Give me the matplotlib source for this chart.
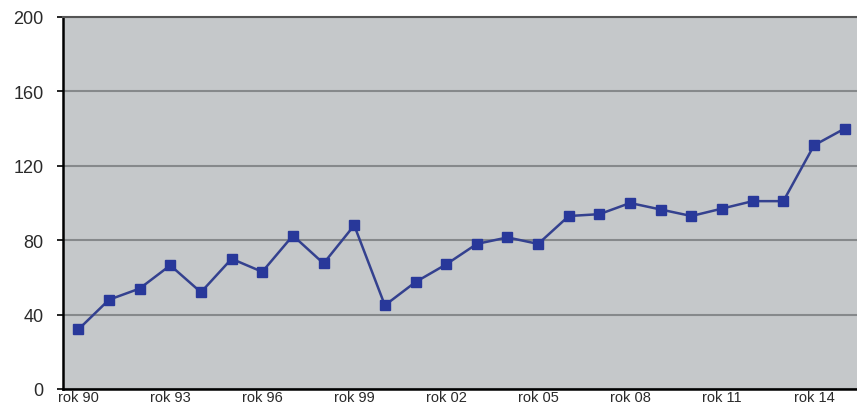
import numpy as np
import matplotlib
matplotlib.use('Agg')
import matplotlib.pyplot as plt

plt.rcParams['font.family'] = ['Liberation Sans', 'DejaVu Sans']

# dane
years = list(range(1990, 2016))
values = [32, 48, 54, 66.5, 52, 70, 63, 82.5, 67.5, 88, 45, 57.5, 67,
          78, 81.5, 78, 93, 94, 100, 96.5, 93, 97, 101, 101, 131, 140]
tick_years = [1990, 1993, 1996, 1999, 2002, 2005, 2008, 2011, 2014]
tick_labels = ['rok 90', 'rok 93', 'rok 96', 'rok 99', 'rok 02',
               'rok 05', 'rok 08', 'rok 11', 'rok 14']
y_ticks = [0, 40, 80, 120, 160, 200]

fig = plt.figure(figsize=(8.57, 4.10), dpi=100)
ax = fig.add_axes([63 / 857, 20 / 410, 797 / 857, 372 / 410])
ax.set_facecolor('#c5c8ca')

x = np.arange(len(years))
ax.plot(x, values, color='#34418f', lw=1.8, marker='s', markersize=6.5,
        markerfacecolor='#28389a', markeredgecolor='#28389a', zorder=3)

ax.set_xlim(-0.5, len(years) - 0.5)
ax.set_ylim(0, 200)

ax.set_yticks(y_ticks)
ax.set_yticklabels([str(v) for v in y_ticks], fontsize=13, color='#2a2a2a')
pos = [years.index(t) for t in tick_years]
ax.set_xticks(pos)
ax.set_xticklabels(tick_labels, fontsize=10.5, color='#2a2a2a')

ax.grid(axis='y', color='#86898b', lw=1.5)
ax.set_axisbelow(True)

ax.tick_params(axis='y', length=4, width=1.2, pad=10, color='black')
ax.tick_params(axis='x', length=0, pad=1)

ax.spines['left'].set_linewidth(1.8)
ax.spines['bottom'].set_linewidth(1.8)
ax.spines['top'].set_color('#555555')
ax.spines['top'].set_linewidth(1.5)
ax.spines['right'].set_visible(False)

plt.savefig('out.png', dpi=100)
